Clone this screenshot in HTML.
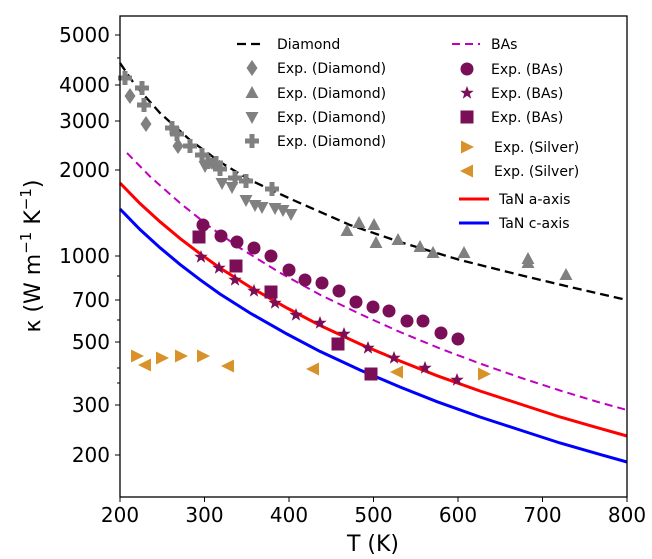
<!DOCTYPE html>
<html><head><meta charset="utf-8"><style>
body{margin:0;background:#fff;}
svg{display:block;font-family:"DejaVu Sans","Liberation Sans",sans-serif;}
</style></head><body>
<svg width="652" height="559" viewBox="0 0 652 559" xmlns="http://www.w3.org/2000/svg">
<defs>
<path id="dm" d="M0,-8 L5.5,0 L0,8 L-5.5,0Z" fill="#808080"/>
<path id="tu" d="M0,-7 L6.5,5 L-6.5,5Z" fill="#808080"/>
<path id="td" d="M0,7 L6.5,-5 L-6.5,-5Z" fill="#808080"/>
<path id="pl" d="M-2.5,-7h5v4.5h4.5v5h-4.5v4.5h-5v-4.5h-4.5v-5h4.5Z" fill="#808080"/>
<circle id="ci" r="6.5" fill="#7b0f57"/>
<path id="st" d="M0,-7 L1.8,-2.2 L6.7,-2.2 L2.8,0.9 L4.2,5.7 L0,2.8 L-4.2,5.7 L-2.8,0.9 L-6.7,-2.2 L-1.8,-2.2Z" fill="#7b0f57"/>
<rect id="sq" x="-6.5" y="-6.5" width="13" height="13" fill="#7b0f57"/>
<path id="sr" d="M7,0 L-6,-6.5 L-6,6.5Z" fill="#d9912a"/>
<path id="sl" d="M-7,0 L6,-6.5 L6,6.5Z" fill="#d9912a"/>
</defs>
<g fill="none" stroke-width="3">
<polyline stroke="#0000ff" points="120,209 140,229.5 160,247.7 180,264.4 200,279.7 220,294 250,313 287,334 320,351.4 360,370 400,387 437,401.7 480,417 520,430 560,443 600,454.4 627,462"/>
<polyline stroke="#ff0000" points="120,183 140,203.5 160,221.7 180,238.4 200,253.7 220,268 250,287 287,308 320,325.4 360,344 400,361 437,375.7 480,391 520,404 560,417 600,428.4 627,436"/>
<polyline stroke="#c000c0" stroke-width="2" stroke-dasharray="8,5" points="127,153 150,176.5 180,203 210,227 240,248 280,272.8 320,294.7 360,314 400,332 440,348.5 480,363.5 520,377.5 560,390.5 600,402.6 627,410"/>
<polyline stroke="#000" stroke-width="2.3" stroke-dasharray="9,5" points="120,63 135,85 160,113 190,140 220,162 250,180 293,200 350,225 400,242 460,260 520,275 570,287 627,300"/>
</g>
<g>
<use href="#dm" x="130" y="96"/><use href="#dm" x="146" y="124"/><use href="#dm" x="178" y="146"/>
<use href="#pl" x="125" y="78"/><use href="#pl" x="142" y="88"/><use href="#pl" x="144" y="105"/><use href="#pl" x="172" y="128"/><use href="#pl" x="177" y="134"/><use href="#pl" x="190" y="146"/><use href="#pl" x="202" y="155"/><use href="#pl" x="208" y="162"/><use href="#pl" x="216" y="163"/><use href="#pl" x="220" y="169"/><use href="#pl" x="235" y="178"/><use href="#pl" x="246" y="181"/><use href="#pl" x="272" y="189"/>
<use href="#td" x="205" y="166"/><use href="#td" x="212" y="163"/><use href="#td" x="222" y="183"/><use href="#td" x="232" y="187"/><use href="#td" x="246" y="200"/><use href="#td" x="255" y="205"/><use href="#td" x="262" y="207"/><use href="#td" x="275" y="208"/><use href="#td" x="283" y="210"/><use href="#td" x="291" y="214"/>
<use href="#tu" x="347" y="231"/><use href="#tu" x="359" y="223"/><use href="#tu" x="374" y="225"/><use href="#tu" x="376" y="243"/><use href="#tu" x="398" y="240"/><use href="#tu" x="420" y="247"/><use href="#tu" x="433" y="253"/><use href="#tu" x="464" y="253"/><use href="#tu" x="528" y="259"/><use href="#tu" x="528" y="263"/><use href="#tu" x="566" y="275"/>
<use href="#ci" x="203" y="225"/><use href="#ci" x="221" y="236"/><use href="#ci" x="237" y="242"/><use href="#ci" x="254" y="248"/><use href="#ci" x="271" y="256"/><use href="#ci" x="289" y="270"/><use href="#ci" x="305" y="280"/><use href="#ci" x="322" y="283"/><use href="#ci" x="339" y="291"/><use href="#ci" x="356" y="302"/><use href="#ci" x="373" y="307"/><use href="#ci" x="389" y="311"/><use href="#ci" x="407" y="321"/><use href="#ci" x="423" y="321"/><use href="#ci" x="441" y="333"/><use href="#ci" x="458" y="339"/>
<use href="#st" x="201" y="257"/><use href="#st" x="219" y="268"/><use href="#st" x="235" y="280"/><use href="#st" x="254" y="291"/><use href="#st" x="275" y="303"/><use href="#st" x="296" y="315"/><use href="#st" x="320" y="323"/><use href="#st" x="344" y="334"/><use href="#st" x="368" y="348"/><use href="#st" x="394" y="358"/><use href="#st" x="425" y="368"/><use href="#st" x="457" y="380"/>
<use href="#sq" x="199" y="237"/><use href="#sq" x="236" y="266"/><use href="#sq" x="271" y="292"/><use href="#sq" x="338" y="344"/><use href="#sq" x="371" y="374"/>
<use href="#sr" x="137" y="356"/><use href="#sr" x="162" y="358"/><use href="#sr" x="181" y="356"/><use href="#sr" x="203" y="356"/><use href="#sr" x="484" y="374"/>
<use href="#sl" x="145" y="365"/><use href="#sl" x="228" y="366"/><use href="#sl" x="313" y="369"/><use href="#sl" x="397" y="372"/>
</g>
<g font-size="14" fill="#000">
<line x1="237" y1="44" x2="265" y2="44" stroke="#000" stroke-width="2.3" stroke-dasharray="9,5"/>
<text x="277" y="49">Diamond</text>
<use href="#dm" x="252" y="68"/><text x="277" y="73">Exp. (Diamond)</text>
<use href="#tu" x="252" y="93"/><text x="277" y="98">Exp. (Diamond)</text>
<use href="#td" x="252" y="117"/><text x="277" y="122">Exp. (Diamond)</text>
<use href="#pl" x="252" y="141"/><text x="277" y="146">Exp. (Diamond)</text>
<line x1="452" y1="44" x2="480" y2="44" stroke="#c000c0" stroke-width="2" stroke-dasharray="8,5"/>
<text x="491" y="49">BAs</text>
<use href="#ci" x="467" y="69"/><text x="491" y="74">Exp. (BAs)</text>
<use href="#st" x="467" y="93"/><text x="491" y="98">Exp. (BAs)</text>
<use href="#sq" x="467" y="117"/><text x="491" y="122">Exp. (BAs)</text>
<use href="#sr" x="467" y="147"/><text x="494" y="152">Exp. (Silver)</text>
<use href="#sl" x="467" y="171"/><text x="494" y="176">Exp. (Silver)</text>
<line x1="459" y1="199" x2="489" y2="199" stroke="#ff0000" stroke-width="3"/><text x="499" y="204">TaN a-axis</text>
<line x1="459" y1="223" x2="489" y2="223" stroke="#0000ff" stroke-width="3"/><text x="499" y="228">TaN c-axis</text>
</g>
<rect x="120" y="16" width="507" height="481" fill="none" stroke="#000" stroke-width="1.3"/>
<g stroke="#000" stroke-width="1">
<line x1="115" y1="35" x2="120" y2="35"/><line x1="115" y1="85" x2="120" y2="85"/><line x1="115" y1="121" x2="120" y2="121"/><line x1="115" y1="170" x2="120" y2="170"/><line x1="115" y1="256" x2="120" y2="256"/><line x1="115" y1="300" x2="120" y2="300"/><line x1="115" y1="342" x2="120" y2="342"/><line x1="115" y1="405" x2="120" y2="405"/><line x1="115" y1="455" x2="120" y2="455"/>
<line x1="117" y1="58" x2="120" y2="58"/><line x1="117" y1="276" x2="120" y2="276"/><line x1="117" y1="320" x2="120" y2="320"/><line x1="117" y1="368" x2="120" y2="368"/><line x1="117" y1="383" x2="120" y2="383"/>
<line x1="120" y1="497" x2="120" y2="502"/><line x1="204.5" y1="497" x2="204.5" y2="502"/><line x1="289" y1="497" x2="289" y2="502"/><line x1="373.5" y1="497" x2="373.5" y2="502"/><line x1="458" y1="497" x2="458" y2="502"/><line x1="542.5" y1="497" x2="542.5" y2="502"/><line x1="627" y1="497" x2="627" y2="502"/>
</g>
<g font-size="20" fill="#000" text-anchor="end">
<text x="110" y="42">5000</text><text x="110" y="92">4000</text><text x="110" y="128">3000</text><text x="110" y="177">2000</text><text x="110" y="263">1000</text><text x="110" y="307">700</text><text x="110" y="349">500</text><text x="110" y="412">300</text><text x="110" y="462">200</text>
</g>
<g font-size="20" fill="#000" text-anchor="middle">
<text x="120" y="522">200</text><text x="204.5" y="522">300</text><text x="289" y="522">400</text><text x="373.5" y="522">500</text><text x="458" y="522">600</text><text x="542.5" y="522">700</text><text x="627" y="522">800</text>
<text x="373" y="551" font-size="22">T (K)</text>
<text transform="translate(40,256) rotate(-90)" font-size="22">κ (W m<tspan dy="-9" font-size="15">−1</tspan><tspan dy="9"> K</tspan><tspan dy="-9" font-size="15">−1</tspan><tspan dy="9">)</tspan></text>
</g>
</svg>
</body></html>
